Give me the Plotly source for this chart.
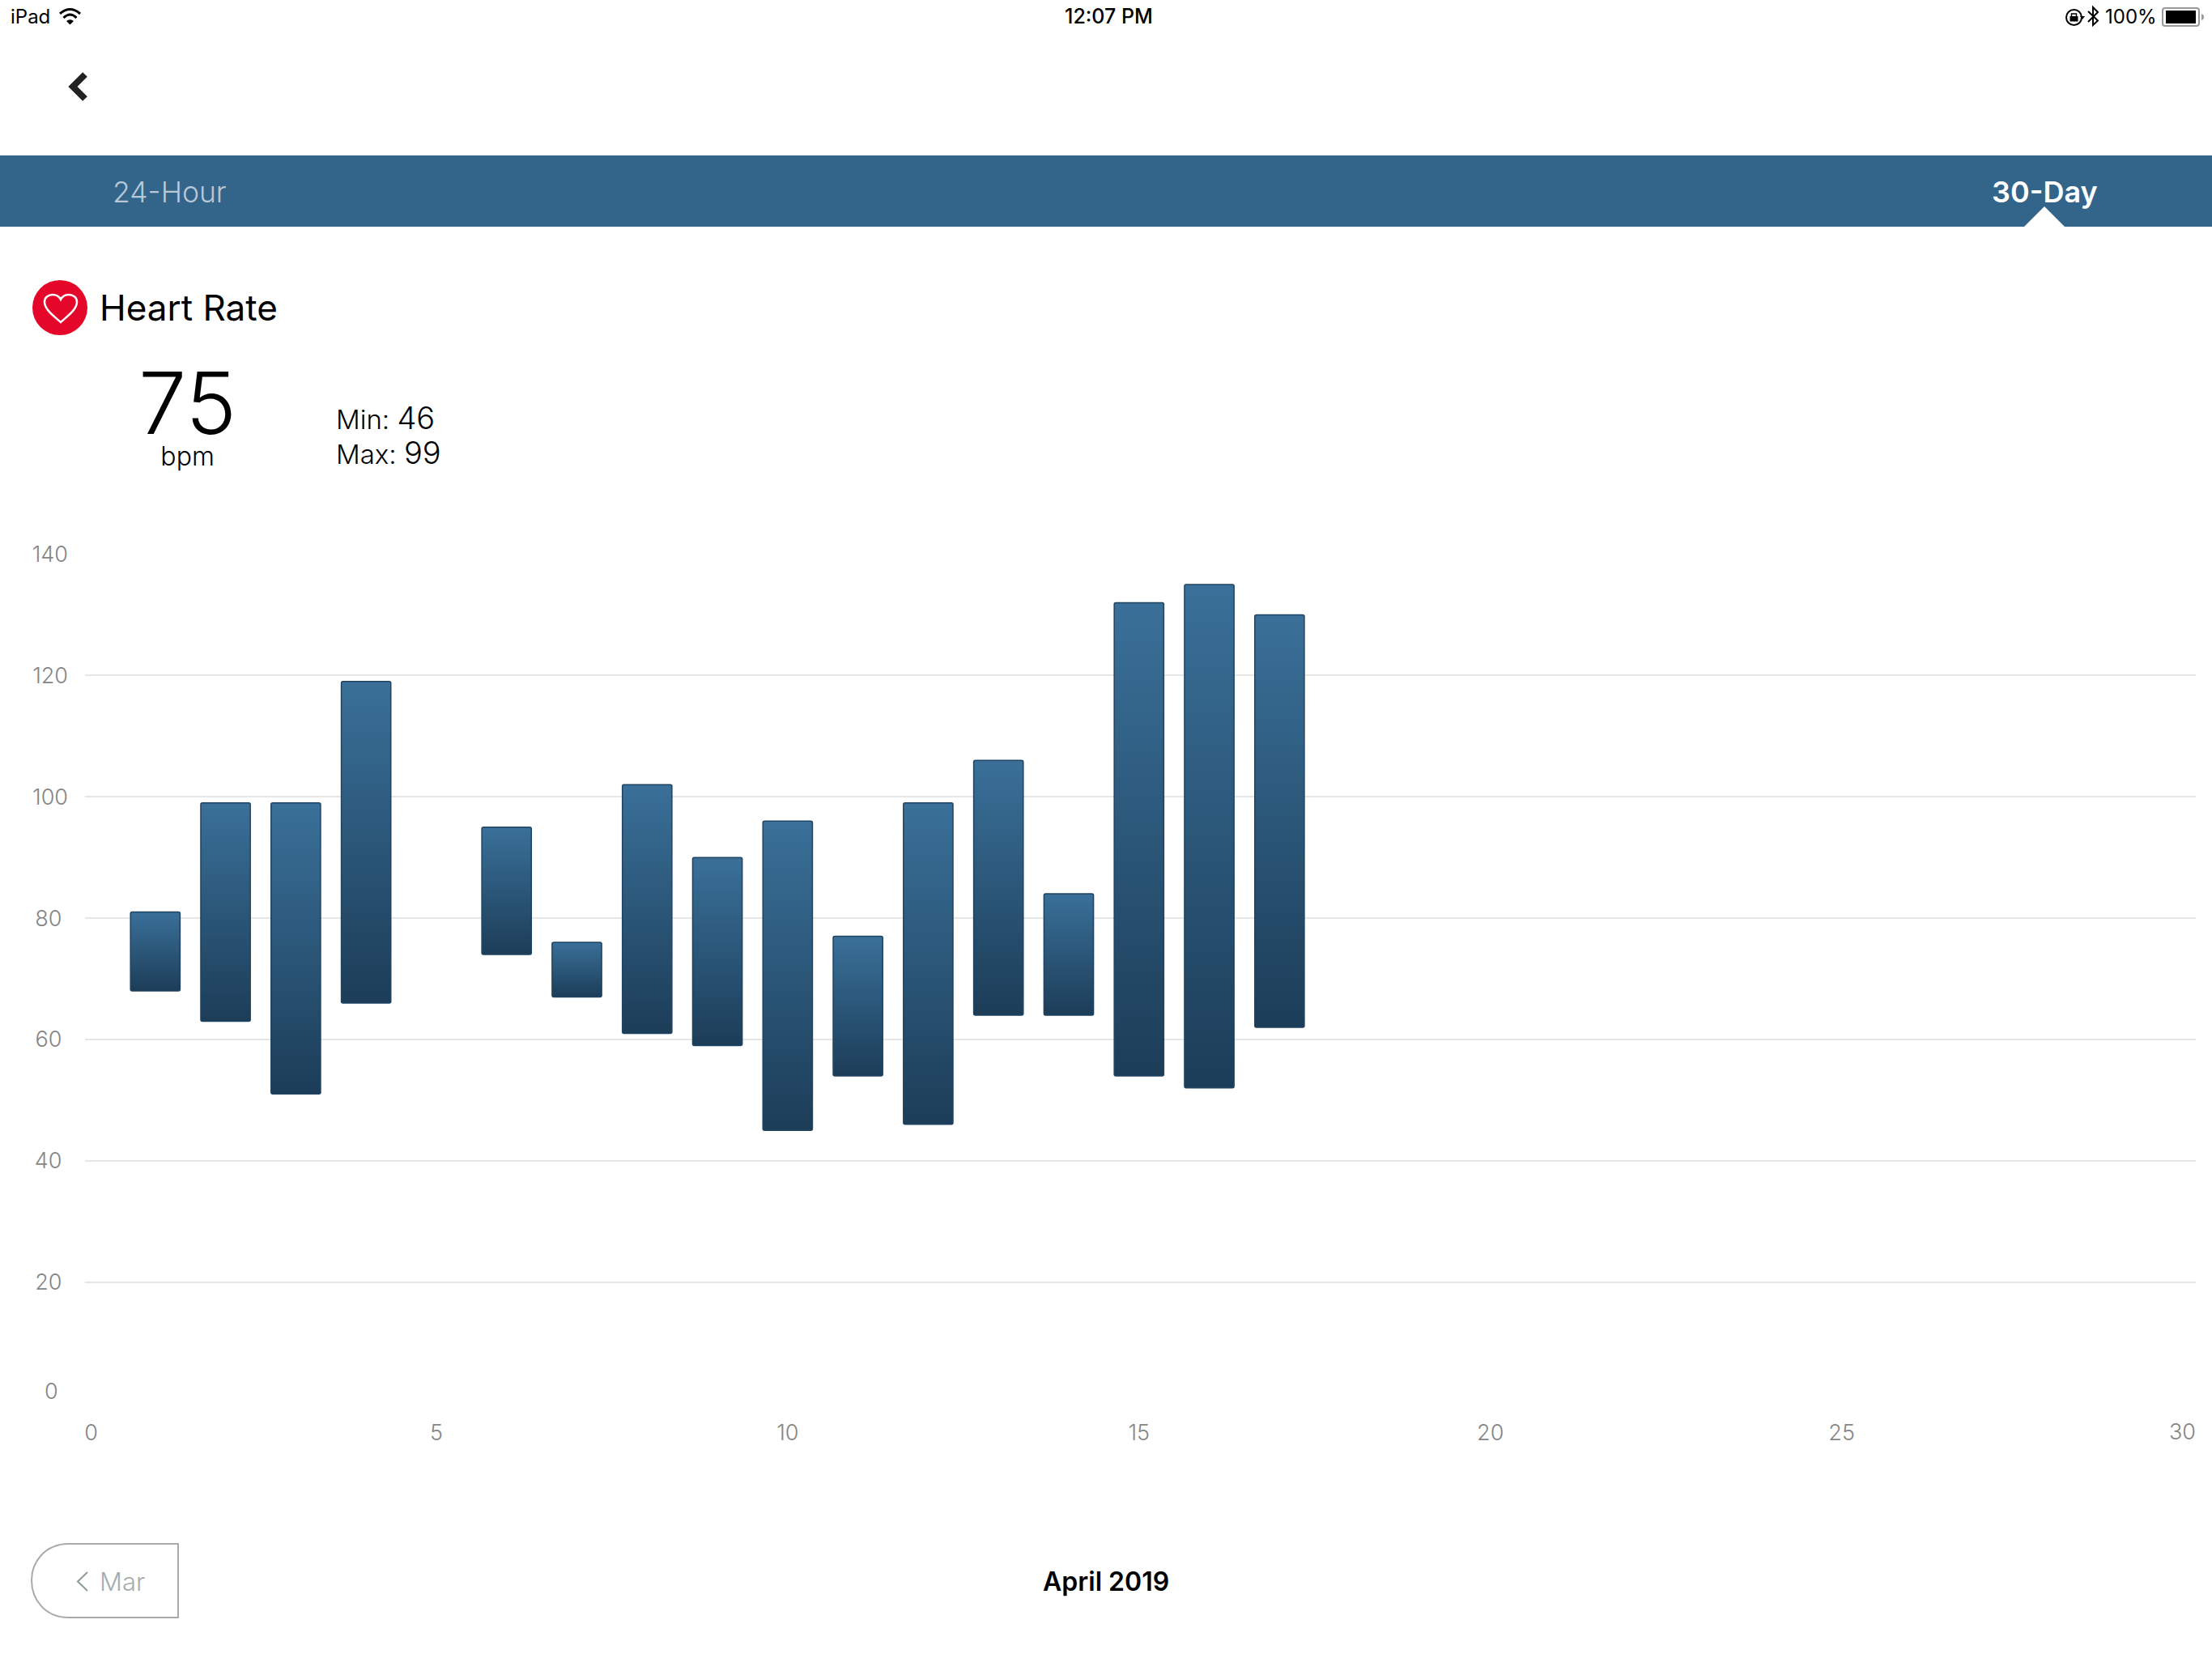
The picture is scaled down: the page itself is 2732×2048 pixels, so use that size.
#!/usr/bin/env python3
"""Heart Rate 30-day screen (iPad) as a Plotly range-bar chart."""
import plotly.graph_objects as go

days = [1, 2, 3, 4, 6, 7, 8, 9, 10, 11, 12, 13, 14, 15, 16, 17]
bpm_low = [68, 63, 51, 66, 74, 67, 61, 59, 45, 54, 46, 64, 64, 54, 52, 62]
bpm_high = [81, 99, 99, 119, 95, 76, 102, 90, 96, 77, 99, 106, 84, 132, 135, 130]

y_ticks = [0, 20, 40, 60, 80, 100, 120, 140]
y_tick_labels = ["", "20", "40", "60", "80", "100", "120", "140"]
x_ticks = [0, 5, 10, 15, 20, 25, 30]
x_tick_labels = ["0", "5", "10", "15", "20", "25", ""]

W, H = 2732, 2048
FONT = "Inter"
BAND = "#33658a"
NBSP = "\u00a0"


def px(x):
    return x / W


def py(y):
    return 1 - y / H


def px_path(d):
    # path written in screen pixels, converted to paper coordinates
    out, is_x = [], True
    for tok in d.split():
        if tok.isalpha():
            out.append(tok)
        else:
            out.append(f"{px(float(tok)):.5f}" if is_x else f"{py(float(tok)):.5f}")
            is_x = not is_x
    return " ".join(out)


fig = go.Figure()
fig.add_trace(go.Bar(
    x=days,
    y=[hi - lo for lo, hi in zip(bpm_low, bpm_high)],
    base=bpm_low,
    width=0.705,
    marker=dict(color="#2b5577", line=dict(color="#1f4360", width=1.5), cornerradius=2),
    hoverinfo="skip",
))


def path(d, fill=None, line=None, width=0):
    fig.add_shape(
        type="path", xref="paper", yref="paper", path=px_path(d),
        fillcolor=fill or "rgba(0,0,0,0)",
        line=dict(color=line or "rgba(0,0,0,0)", width=width),
    )


def text(x, y, s, size, color="#000000", weight=400, anchor="left"):
    fig.add_annotation(
        xref="paper", yref="paper", x=px(x), y=py(y), text=s, showarrow=False,
        xanchor=anchor, yanchor="middle", borderpad=0, align=anchor,
        font=dict(family=FONT, size=size, color=color, weight=weight),
    )


# header band + tab marker
path("M 0 192 L 2732 192 L 2732 280 L 0 280 Z", fill=BAND)
path("M 2500 280 L 2525 255 L 2550 280 Z", fill="#ffffff")

# status bar icons
path("M 74 17 Q 86.5 6 99 17", line="#000000", width=3)
path("M 78.5 22 Q 86.5 14 94.5 22", line="#000000", width=3)
path("M 82 26 Q 86.5 22.5 91 26 L 86.5 30.5 Z", fill="#000000")
fig.add_shape(type="circle", xref="paper", yref="paper",
              x0=px(2552), x1=px(2571), y0=py(12), y1=py(31),
              line=dict(color="#000000", width=2))
path("M 2569 20 L 2575 20 L 2572 24 Z", fill="#000000")
path("M 2556.5 20 L 2566.5 20 L 2566.5 26.5 L 2556.5 26.5 Z", fill="#000000")
path("M 2558.5 20 L 2558.5 17 L 2564.5 17 L 2564.5 20", line="#000000", width=1.5)
path("M 2579 14 L 2591 25.5 L 2585 31 L 2585 9 L 2591 15 L 2579 27", line="#000000", width=2)
path("M 2674 10 L 2713 10 Q 2716 10 2716 13 L 2716 29 Q 2716 32 2713 32 L 2674 32 "
     "Q 2671 32 2671 29 L 2671 13 Q 2671 10 2674 10 Z", line="#999999", width=2)
path("M 2675 13 L 2712 13 L 2712 29 L 2675 29 Z", fill="#000000")
path("M 2719 17 Q 2722 18 2722 21 Q 2722 24 2719 25 Z", fill="#999999")

# back chevron
path("M 105 92 L 90 107 L 105 122", line="#222222", width=8)

# heart icon
fig.add_shape(type="circle", xref="paper", yref="paper",
              x0=px(40), x1=px(108), y0=py(346), y1=py(414),
              fillcolor="#e4072a", line=dict(width=0))
path("M 75 398 C 66 390 55 382 55 373 C 55 367 60 364 65 364 C 70 364 73 366 75 370 "
     "C 77 366 80 364 85 364 C 90 364 95 367 95 373 C 95 382 84 390 75 398 Z",
     line="#ffffff", width=2.5)

# previous-month button
path("M 220 1907 L 85 1907 C 55 1907 39 1930 39 1952 C 39 1975 55 1998 85 1998 "
     "L 220 1998 Z", line="#aaaaaa", width=2)
path("M 108 1942 L 96 1953.5 L 108 1965", line="#8a9a9a", width=2)

# texts
text(12, 20, "iPad", 24)
text(1369, 20, "12:07 PM", 25, weight=500, anchor="center")
text(2599, 20, "100%", 24)
text(138, 237, "24-Hour", 35.5, color="#b8c8d6", weight=300)
text(2525, 237, "30-Day", 36, color="#ffffff", weight=600, anchor="center")
text(122, 380, "Heart Rate", 44)
text(231, 508, "<span style='font-size:106px'>75</span><br>"
               "<span style='font-size:32px'>bpm</span>", 30, weight=300, anchor="center")
text(414, 537, "Min: <span style='font-size:38px'>46</span><br>"
               "Max: <span style='font-size:38px'>99</span>", 33, weight=300)
text(122, 1953, "Mar", 31, color="#a6adad", weight=300)
text(1366, 1953, "April 2019", 32, weight=600, anchor="center")
# the two end labels sit off their ticks in the app
text(63, 1718, "0", 27, color="#858585", weight=300, anchor="center")
text(2695, 1768, "30", 27, color="#858585", weight=300, anchor="center")

y_text = [s + NBSP * (3 - len(s)) for s in y_tick_labels]
x_text = list(x_tick_labels)
x_text[0] = NBSP * 2 + x_text[0]

tick_font = dict(family=FONT, size=27, color="#858585", weight=300)
fig.update_layout(
    width=W,
    height=H,
    margin=dict(l=0, r=0, t=0, b=0, autoexpand=False),
    paper_bgcolor="#ffffff",
    plot_bgcolor="#ffffff",
    showlegend=False,
    xaxis=dict(
        domain=[px(105), px(2712)],
        range=[0, 30.04],
        tickmode="array",
        tickvals=x_ticks,
        ticktext=x_text,
        tickfont=tick_font,
        ticklabelstandoff=17,
        showgrid=False,
        zeroline=False,
        showline=False,
    ),
    yaxis=dict(
        domain=[py(1733.5), py(684.5)],
        range=[0, 140],
        tickmode="array",
        tickvals=y_ticks,
        ticktext=y_text,
        tickfont=tick_font,
        ticklabelstandoff=20,
        gridcolor="#e6e6e6",
        gridwidth=2,
        zeroline=False,
        showline=False,
    ),
)

# plotly bars have no gradient fill, so set one on the drawn bars
post_script = """
document.body.style.margin = '0';
document.body.style.overflow = 'hidden';
var gd = document.getElementById('{plot_id}');
var defs = gd.querySelector('.main-svg defs');
var ns = 'http://www.w3.org/2000/svg';
var grad = document.createElementNS(ns, 'linearGradient');
grad.setAttribute('id', 'barfade');
grad.setAttribute('x1', '0'); grad.setAttribute('y1', '0');
grad.setAttribute('x2', '0'); grad.setAttribute('y2', '1');
[['0', '#3a7099'], ['1', '#1c3d58']].forEach(function (s) {
    var stop = document.createElementNS(ns, 'stop');
    stop.setAttribute('offset', s[0]);
    stop.setAttribute('stop-color', s[1]);
    grad.appendChild(stop);
});
defs.appendChild(grad);
gd.querySelectorAll('.barlayer .point path').forEach(function (p) {
    p.style.fill = 'url(#barfade)';
});
"""

fig.write_html("out.html", post_script=post_script, config={"displayModeBar": False})
